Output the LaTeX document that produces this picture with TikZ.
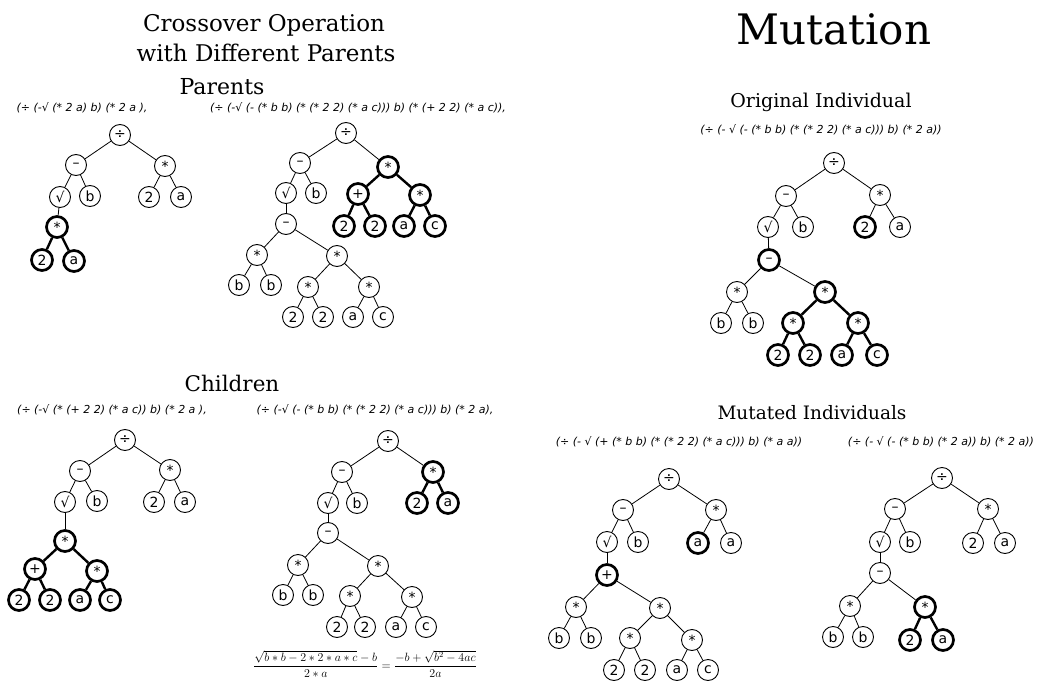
\documentclass[tikz,border=0pt]{standalone}
\usepackage{amsmath}
\usepackage{fontspec}
\setmainfont{DejaVu Serif}
\newfontfamily\nodefont{DejaVu Sans}
\newfontfamily\exprfont{DejaVu Sans}
\usetikzlibrary{positioning}

\begin{document}
\begin{tikzpicture}[x=1pt,y=-1pt,
    tnode/.style={draw,circle,minimum size=21pt,inner sep=0pt,line width=0.9pt,
        font=\nodefont\fontsize{14}{14}\selectfont},
    hnode/.style={tnode,line width=2.7pt},
    edge/.style={line width=0.8pt},
    hedge/.style={line width=2.4pt},
    expr/.style={font=\exprfont\itshape\fontsize{11}{11}\selectfont},
    heading/.style={font=\fontsize{#1}{#1}\selectfont}]
    \useasboundingbox (0,0) rectangle (1063,682);

    % headings
    \node[heading=23] (xtitle) at (264,25) {Crossover Operation};
    \node[heading=23] (xtitleb) at (266,53) {with Different Parents};
    \node[heading=22] (parents) at (222,87) {Parents};
    \node[heading=21.5] (children) at (232,383) {Children};
    \node[heading=42] (mtitle) at (834,29) {Mutation};
    \node[heading=19] (orig) at (821,102) {Original Individual};
    \node[heading=18.5] (mutated) at (812,413) {Mutated Individuals};

    % expressions
    \node[expr] (paexpr) at (82,108) {(÷ (-√ (* 2 a) b) (* 2 a ),};
    \node[expr] (pbexpr) at (358,108) {(÷ (-√ (- (* b b) (* (* 2 2) (* a c))) b) (* (+ 2 2) (* a c)),};
    \node[expr] (caexpr) at (112,410) {(÷ (-√ (* (+ 2 2) (* a c)) b) (* 2 a ),};
    \node[expr] (cbexpr) at (375,410) {(÷ (-√ (- (* b b) (* (* 2 2) (* a c))) b) (* 2 a),};
    \node[expr] (ogexpr) at (821,130) {(÷ (- √ (- (* b b) (* (* 2 2) (* a c))) b) (* 2 a))};
    \node[expr] (maexpr) at (679,442) {(÷ (- √ (+ (* b b) (* (* 2 2) (* a c))) b) (* a a))};
    \node[expr] (mbexpr) at (941,442) {(÷ (- √ (- (* b b) (* 2 a)) b) (* 2 a))};

    % parent A
    \node[tnode] (pa1) at (120,135) {÷};
    \node[tnode] (pa2) at (76,165) {–};
    \node[tnode] (pa3) at (165,166) {*};
    \node[tnode] (pa4) at (60,197) {√};
    \node[tnode] (pa5) at (90,196) {b};
    \node[tnode] (pa6) at (149,197) {2};
    \node[tnode] (pa7) at (181,197) {a};
    \node[hnode] (pa8) at (57,227) {*};
    \node[hnode] (pa9) at (42,260) {2};
    \node[hnode] (pa10) at (74,261) {a};
    \foreach \u/\v in {1/2,1/3,2/4,2/5,3/6,3/7,4/8}
        \draw[edge] (pa\u) -- (pa\v);
    \foreach \u/\v in {8/9,8/10}
        \draw[hedge] (pa\u) -- (pa\v);

    % parent B
    \node[tnode] (pb1) at (346,133) {÷};
    \node[tnode] (pb2) at (300,163) {–};
    \node[hnode] (pb3) at (388,167) {*};
    \node[tnode] (pb4) at (286,193) {√};
    \node[tnode] (pb5) at (316,193) {b};
    \node[hnode] (pb6) at (358,194) {+};
    \node[hnode] (pb7) at (420,195) {*};
    \node[hnode] (pb8) at (344,226) {2};
    \node[hnode] (pb9) at (375,226) {2};
    \node[hnode] (pb10) at (404,226) {a};
    \node[hnode] (pb11) at (435,226) {c};
    \node[tnode] (pb12) at (286,224) {–};
    \node[tnode] (pb13) at (257,255) {*};
    \node[tnode] (pb14) at (337,256) {*};
    \node[tnode] (pb15) at (239,285) {b};
    \node[tnode] (pb16) at (271,285) {b};
    \node[tnode] (pb17) at (308,287) {*};
    \node[tnode] (pb18) at (369,287) {*};
    \node[tnode] (pb19) at (293,317) {2};
    \node[tnode] (pb20) at (323,317) {2};
    \node[tnode] (pb21) at (353,317) {a};
    \node[tnode] (pb22) at (383,317) {c};
    \foreach \u/\v in {1/2,1/3,2/4,2/5,4/12,12/13,12/14,13/15,13/16,14/17,14/18,17/19,17/20,18/21,18/22}
        \draw[edge] (pb\u) -- (pb\v);
    \foreach \u/\v in {3/6,3/7,6/8,6/9,7/10,7/11}
        \draw[hedge] (pb\u) -- (pb\v);

    % original individual
    \node[tnode] (og1) at (834,163) {÷};
    \node[tnode] (og2) at (786,196) {–};
    \node[tnode] (og3) at (880,195) {*};
    \node[tnode] (og4) at (768,227) {√};
    \node[tnode] (og5) at (803,227) {b};
    \node[hnode] (og6) at (865,227) {2};
    \node[tnode] (og7) at (900,227) {a};
    \node[hnode] (og8) at (769,260) {–};
    \node[tnode] (og9) at (737,292) {*};
    \node[hnode] (og10) at (825,292) {*};
    \node[tnode] (og11) at (721,323) {b};
    \node[tnode] (og12) at (753,323) {b};
    \node[hnode] (og13) at (793,323) {*};
    \node[hnode] (og14) at (858,323) {*};
    \node[hnode] (og15) at (778,355) {2};
    \node[hnode] (og16) at (810,355) {2};
    \node[hnode] (og17) at (842,355) {a};
    \node[hnode] (og18) at (877,355) {c};
    \foreach \u/\v in {1/2,1/3,2/4,2/5,3/6,3/7,4/8,8/9,8/10,9/11,9/12}
        \draw[edge] (og\u) -- (og\v);
    \foreach \u/\v in {10/13,10/14,13/15,13/16,14/17,14/18}
        \draw[hedge] (og\u) -- (og\v);

    % child A
    \node[tnode] (ca1) at (125,440) {÷};
    \node[tnode] (ca2) at (80,471) {–};
    \node[tnode] (ca3) at (170,470) {*};
    \node[tnode] (ca4) at (65,502) {√};
    \node[tnode] (ca5) at (97,501) {b};
    \node[tnode] (ca6) at (154,502) {2};
    \node[tnode] (ca7) at (185,502) {a};
    \node[hnode] (ca8) at (65,541) {*};
    \node[hnode] (ca9) at (35,569) {+};
    \node[hnode] (ca10) at (97,571) {*};
    \node[hnode] (ca11) at (19,600) {2};
    \node[hnode] (ca12) at (50,600) {2};
    \node[hnode] (ca13) at (80,600) {a};
    \node[hnode] (ca14) at (110,600) {c};
    \foreach \u/\v in {1/2,1/3,2/4,2/5,3/6,3/7,4/8}
        \draw[edge] (ca\u) -- (ca\v);
    \foreach \u/\v in {8/9,8/10,9/11,9/12,10/13,10/14}
        \draw[hedge] (ca\u) -- (ca\v);

    % child B
    \node[tnode] (cb1) at (388,441) {÷};
    \node[tnode] (cb2) at (342,472) {–};
    \node[hnode] (cb3) at (433,472) {*};
    \node[tnode] (cb4) at (328,503) {√};
    \node[tnode] (cb5) at (357,503) {b};
    \node[hnode] (cb6) at (417,503) {2};
    \node[hnode] (cb7) at (448,503) {a};
    \node[tnode] (cb8) at (328,533) {–};
    \node[tnode] (cb9) at (298,565) {*};
    \node[tnode] (cb10) at (378,566) {*};
    \node[tnode] (cb11) at (283,595) {b};
    \node[tnode] (cb12) at (313,595) {b};
    \node[tnode] (cb13) at (350,596) {*};
    \node[tnode] (cb14) at (412,597) {*};
    \node[tnode] (cb15) at (337,627) {2};
    \node[tnode] (cb16) at (365,627) {2};
    \node[tnode] (cb17) at (396,627) {a};
    \node[tnode] (cb18) at (426,627) {c};
    \foreach \u/\v in {1/2,1/3,2/4,2/5,4/8,8/9,8/10,9/11,9/12,10/13,10/14,13/15,13/16,14/17,14/18}
        \draw[edge] (cb\u) -- (cb\v);
    \foreach \u/\v in {3/6,3/7}
        \draw[hedge] (cb\u) -- (cb\v);

    % formula under child B
    \node[font=\fontsize{11.5}{11.5}\selectfont] (formula) at (365,664)
        {$\displaystyle \frac{\sqrt{b*b-2*2*a*c}-b}{2*a}=\frac{-b+\sqrt{b^2-4ac}}{2a}$};

    % mutated A
    \node[tnode] (ma1) at (669,479) {÷};
    \node[tnode] (ma2) at (623,510) {–};
    \node[tnode] (ma3) at (716,510) {*};
    \node[tnode] (ma4) at (607,542) {√};
    \node[tnode] (ma5) at (638,542) {b};
    \node[hnode] (ma6) at (698,543) {a};
    \node[tnode] (ma7) at (731,543) {a};
    \node[hnode] (ma8) at (607,575) {+};
    \node[tnode] (ma9) at (576,607) {*};
    \node[tnode] (ma10) at (660,608) {*};
    \node[tnode] (ma11) at (559,638) {b};
    \node[tnode] (ma12) at (591,638) {b};
    \node[tnode] (ma13) at (630,638) {*};
    \node[tnode] (ma14) at (692,640) {*};
    \node[tnode] (ma15) at (614,670) {2};
    \node[tnode] (ma16) at (645,670) {2};
    \node[tnode] (ma17) at (677,670) {a};
    \node[tnode] (ma18) at (708,670) {c};
    \foreach \u/\v in {1/2,1/3,2/4,2/5,3/6,3/7,4/8,8/9,8/10,9/11,9/12,10/13,10/14,13/15,13/16,14/17,14/18}
        \draw[edge] (ma\u) -- (ma\v);

    % mutated B
    \node[tnode] (mb1) at (942,478) {÷};
    \node[tnode] (mb2) at (895,509) {–};
    \node[tnode] (mb3) at (988,509) {*};
    \node[tnode] (mb4) at (880,542) {√};
    \node[tnode] (mb5) at (910,542) {b};
    \node[tnode] (mb6) at (973,543) {2};
    \node[tnode] (mb7) at (1005,543) {a};
    \node[tnode] (mb8) at (880,573) {–};
    \node[tnode] (mb9) at (850,606) {*};
    \node[hnode] (mb10) at (925,607) {*};
    \node[tnode] (mb11) at (833,637) {b};
    \node[tnode] (mb12) at (863,637) {b};
    \node[hnode] (mb13) at (910,640) {2};
    \node[hnode] (mb14) at (943,640) {a};
    \foreach \u/\v in {1/2,1/3,2/4,2/5,3/6,3/7,4/8,8/9,8/10,9/11,9/12}
        \draw[edge] (mb\u) -- (mb\v);
    \foreach \u/\v in {10/13,10/14}
        \draw[hedge] (mb\u) -- (mb\v);
\end{tikzpicture}
\end{document}
